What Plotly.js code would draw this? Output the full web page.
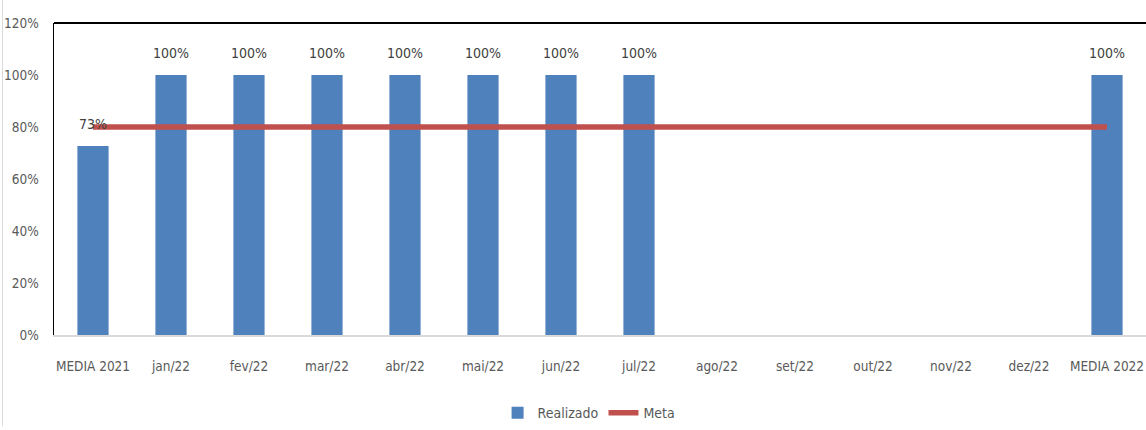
<!DOCTYPE html>
<html>
<head>
<meta charset="utf-8">
<script src="https://cdn.plot.ly/plotly-3.0.1.min.js"></script>
<style>
  html, body { margin: 0; padding: 0; background: #fff; }
  #wrap { position: relative; width: 1146px; height: 430px; }
  #frame { position: absolute; left: 2px; top: 0; width: 1px; height: 426px; background: #d9d9d9; }
  #chart { position: absolute; left: 0; top: 0; width: 1146px; height: 430px; }
</style>
</head>
<body>
<div id="wrap"><div id="chart"></div><div id="frame"></div></div>
<script>
const categories = ["MEDIA 2021", "jan/22", "fev/22", "mar/22", "abr/22", "mai/22", "jun/22", "jul/22", "ago/22", "set/22", "out/22", "nov/22", "dez/22", "MEDIA 2022"];
const realizado = [0.727, 1, 1, 1, 1, 1, 1, 1, null, null, null, null, null, 1];
const meta = [0.8, 0.8, 0.8, 0.8, 0.8, 0.8, 0.8, 0.8, 0.8, 0.8, 0.8, 0.8, 0.8, 0.8];
const yTicks = [0, 0.2, 0.4, 0.6, 0.8, 1.0, 1.2];
const yTickLabels = ["0%", "20%", "40%", "60%", "80%", "100%", "120%"];

const FONT = '"DejaVu Sans Condensed", "Liberation Sans Narrow", "Liberation Sans", sans-serif';
const TXT = '#595959';

const traces = [
  {
    type: 'bar', name: 'Realizado', x: categories, y: realizado,
    marker: { color: '#4F81BD' }, width: 0.4, hoverinfo: 'skip'
  },
  {
    type: 'scatter', mode: 'lines', name: 'Meta', x: categories, y: meta,
    line: { color: '#C0504D', width: 5.5 }, hoverinfo: 'skip'
  }
];

const annotations = categories.map((c, i) => realizado[i] == null ? null : ({
  x: c, y: realizado[i], xref: 'x', yref: 'y',
  text: Math.round(realizado[i] * 100) + '%',
  showarrow: false, yanchor: 'bottom', yshift: 12,
  font: { family: FONT, size: 14, color: '#404040' }
})).filter(a => a);

const layout = {
  width: 1146, height: 430,
  margin: { l: 54, r: 0, t: 23, b: 95 },
  paper_bgcolor: '#ffffff', plot_bgcolor: '#ffffff',
  font: { family: FONT, size: 13, color: TXT },
  showlegend: true,
  legend: {
    orientation: 'h', x: 0.49, xanchor: 'center', y: -0.302, yanchor: 'bottom',
    font: { family: FONT, size: 14, color: TXT }, traceorder: 'normal'
  },
  xaxis: {
    type: 'category', showgrid: false, zeroline: false,
    showline: true, linecolor: '#d9d9d9', linewidth: 1.5,
    ticks: '', tickfont: { family: FONT, size: 13.5, color: TXT },
    ticklabelstandoff: 18, fixedrange: true
  },
  yaxis: {
    range: [0, 1.2], tickvals: yTicks, ticktext: yTickLabels,
    showgrid: false, zeroline: false,
    showline: true, linecolor: '#000000', linewidth: 1.5,
    ticks: '', tickfont: { family: FONT, size: 13.5, color: TXT },
    ticklabelstandoff: 11, fixedrange: true
  },
  shapes: [
    { type: 'line', xref: 'paper', yref: 'paper', x0: 0, x1: 1, y0: 1, y1: 1,
      line: { color: '#000000', width: 2 } }
  ],
  annotations: annotations,
  bargap: 0.6
};

Plotly.newPlot('chart', traces, layout, { displayModeBar: false, staticPlot: true });
</script>
</body>
</html>
